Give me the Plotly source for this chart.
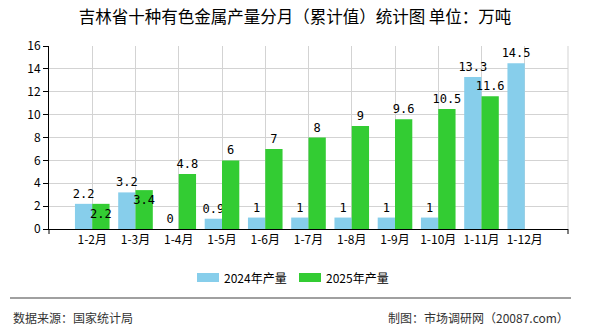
import plotly.graph_objects as go

categories = ["1-2月", "1-3月", "1-4月", "1-5月", "1-6月", "1-7月", "1-8月", "1-9月", "1-10月", "1-11月", "1-12月"]
values_2024 = [2.2, 3.2, 0, 0.9, 1, 1, 1, 1, 1, 13.3, 14.5]
values_2025 = [2.2, 3.4, 4.8, 6, 7, 8, 9, 9.6, 10.5, 11.6, None]
labels_2024 = ["2.2", "3.2", "0", "0.9", "1", "1", "1", "1", "1", "13.3", "14.5"]
labels_2025 = ["2.2", "3.4", "4.8", "6", "7", "8", "9", "9.6", "10.5", "11.6", ""]
pos_2025 = ["inside", "inside"] + ["outside"] * 9
series_names = ["2024年产量", "2025年产量"]
series_colors = ["#87CEEB", "#33CC33"]

FONT = "Noto Sans CJK SC, Noto Sans, sans-serif"
LBL = dict(family="DejaVu Sans Mono, Noto Sans CJK SC, monospace", size=12, color="#000000")

PW, PH = 519, 183  # plot area size in px
def px(x):
    return (x - 49) / PW
def py(y):
    return (229 - y) / PH

fig = go.Figure()
fig.add_trace(go.Bar(
    name=series_names[0], x=categories, y=values_2024, marker_color=series_colors[0],
    marker_line_width=0,
    text=labels_2024, textposition="outside", textangle=0, textfont=LBL, cliponaxis=False,
    constraintext="none", hoverinfo="skip"))
fig.add_trace(go.Bar(
    name=series_names[1], x=categories, y=values_2025, marker_color=series_colors[1],
    marker_line_width=0,
    text=labels_2025, textposition=pos_2025, insidetextanchor="end", textangle=0,
    textfont=LBL, insidetextfont=LBL, outsidetextfont=LBL, cliponaxis=False,
    constraintext="none", hoverinfo="skip"))

shapes = [
    dict(type="line", xref="paper", yref="paper", x0=1, x1=1, y0=0, y1=1,
         line=dict(color="#d3d3d3", width=1)),
    dict(type="line", xref="paper", yref="paper", x0=0, x1=0, y0=0, y1=py(234),
         line=dict(color="#000000", width=1)),
    dict(type="line", xref="paper", yref="paper", x0=1, x1=1, y0=0, y1=py(234),
         line=dict(color="#000000", width=1)),
    dict(type="line", xref="paper", yref="paper", x0=px(10), x1=px(571),
         y0=py(298), y1=py(298), line=dict(color="#808080", width=1.5)),
]
annotations = [
    dict(text="数据来源：国家统计局", xref="paper", yref="paper", x=px(11), y=py(317),
         xanchor="left", yanchor="middle", showarrow=False,
         font=dict(family=FONT, size=12, color="#333333")),
    dict(text="制图：市场调研网（20087.com）", xref="paper", yref="paper", x=px(571),
         y=py(317), xanchor="right", yanchor="middle", showarrow=False,
         font=dict(family=FONT, size=12, color="#333333")),
]
# manual legend
for name, color, sx in zip(series_names, series_colors, [197, 299]):
    shapes.append(dict(type="rect", xref="paper", yref="paper", x0=px(sx), x1=px(sx + 22),
                       y0=py(282), y1=py(273), fillcolor=color, line=dict(width=0)))
    annotations.append(dict(text=name, xref="paper", yref="paper", x=px(sx + 25), y=py(277.5),
                            xanchor="left", yanchor="middle", showarrow=False,
                            font=dict(family=FONT, size=12, color="#000000")))

fig.update_layout(
    width=590, height=330,
    margin=dict(l=49, r=22, t=46, b=101),
    paper_bgcolor="white", plot_bgcolor="white",
    barmode="group", bargap=0.2, bargroupgap=0,
    font=dict(family=FONT, size=12, color="#000000"),
    title=dict(text="吉林省十种有色金属产量分月（累计值）统计图 单位：万吨",
               x=0.5, xanchor="center", y=1 - 17/330, yanchor="middle",
               font=dict(family=FONT, size=16.5, color="#000000")),
    showlegend=False,
    xaxis=dict(type="category", range=[-1, 11], showgrid=True, gridcolor="#d3d3d3", gridwidth=1,
               showline=True, linecolor="#000000", linewidth=1, ticks="",
               tickfont=dict(family=FONT, size=12, color="#000000"), fixedrange=True),
    yaxis=dict(range=[0, 16], dtick=2, showgrid=True, gridcolor="#d3d3d3", gridwidth=1,
               showline=True, linecolor="#000000", linewidth=1, ticks="outside", ticklen=5,
               tickcolor="#000000", zeroline=False,
               tickfont=dict(family=FONT, size=12, color="#000000"), fixedrange=True),
    shapes=shapes,
    annotations=annotations,
)

fig.write_html("out.html")
